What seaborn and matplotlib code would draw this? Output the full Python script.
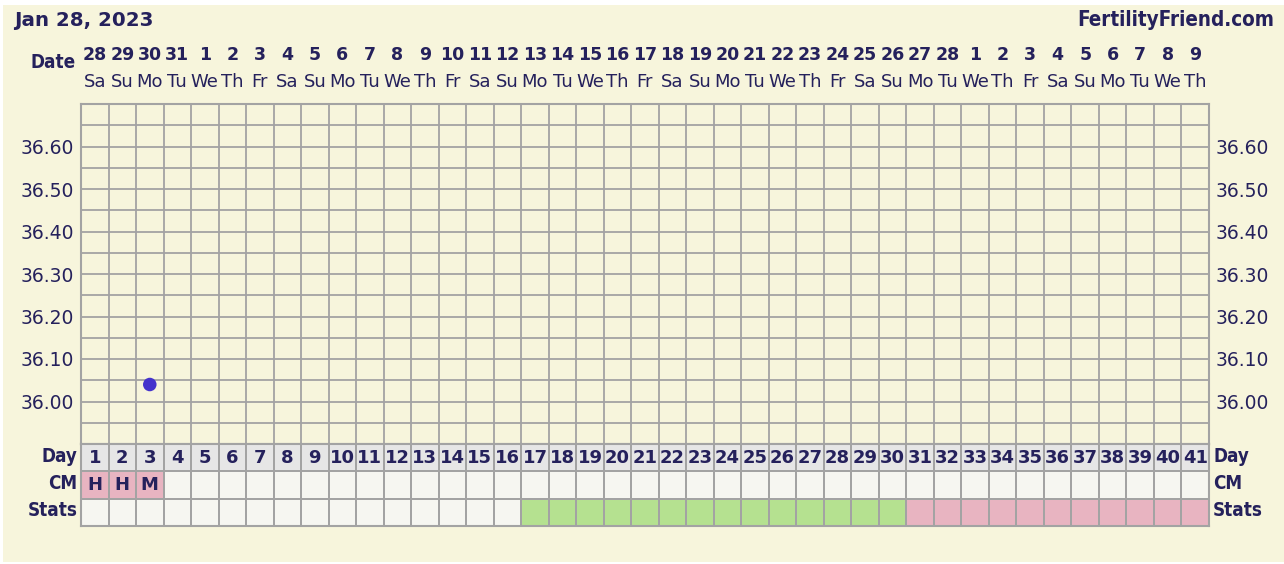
import numpy as np
import pandas as pd
import matplotlib
matplotlib.use("Agg")
import matplotlib.pyplot as plt
import matplotlib.transforms as mtransforms
from matplotlib.colors import ListedColormap
from matplotlib.patches import Rectangle
import seaborn as sns

# ---------------- data ----------------
title_date = "Jan 28, 2023"
site = "FertilityFriend.com"
dates = [28, 29, 30, 31, 1, 2, 3, 4, 5, 6, 7, 8, 9, 10, 11, 12, 13, 14, 15, 16,
         17, 18, 19, 20, 21, 22, 23, 24, 25, 26, 27, 28, 1, 2, 3, 4, 5, 6, 7, 8, 9]
weekdays = ["Sa", "Su", "Mo", "Tu", "We", "Th", "Fr"] * 6
weekdays = weekdays[:41]
cycle_days = list(range(1, 42))
temp_days = [3]
temps = [36.04]
cm_values = ["H", "H", "M"] + [""] * 38
# stats row: 0 = none, 1 = green (days 17-30), 2 = pink (days 31-41)
stats_codes = [0] * 16 + [1] * 14 + [2] * 11
ytick_vals = [36.00, 36.10, 36.20, 36.30, 36.40, 36.50, 36.60]

# ---------------- style ----------------
W, H = 1284, 564
BG = "#F7F5DC"
NAVY = "#25215C"
GRID = "#A3A3A3"
DAYROW = "#E6E6E6"
EMPTY = "#F6F6F1"
PINK = "#E8B4C1"
GREEN = "#B5E190"
DOT = "#4433CC"

sns.set_theme(style="white")
plt.rcParams["font.family"] = ["DejaVu Sans"]

fig = plt.figure(figsize=(W / 100, H / 100), dpi=100, facecolor="white")
fig.patches.append(Rectangle((3 / W, 2 / H), 1 - 3 / W, 1 - 7 / H,
                             transform=fig.transFigure, facecolor=BG,
                             edgecolor="none", zorder=-10))

x0, x1 = 81 / W, 1209 / W
y_top, y_mid, y_bot = 104, 444, 526
ax = fig.add_axes([x0, 1 - y_mid / H, x1 - x0, (y_mid - y_top) / H])
axt = fig.add_axes([x0, 1 - y_bot / H, x1 - x0, (y_bot - y_mid) / H])

# ---- temperature grid ----
ax.set_facecolor(BG)
ax.set_xlim(0, 41)
ax.set_ylim(35.90, 36.70)
ax.set_xticks(np.arange(0, 42), minor=False)
ax.set_xticklabels([])
ax.set_yticks(np.round(np.arange(35.90, 36.701, 0.05), 2), minor=True)
ax.set_yticks(ytick_vals)
ax.set_yticklabels([f"{v:.2f}" for v in ytick_vals], color=NAVY, fontsize=13.5)
ax.tick_params(axis="y", which="both", length=0, pad=5,
               left=True, right=True, labelleft=True, labelright=True)
ax.tick_params(axis="x", length=0)
ax.grid(True, which="both", color=GRID, linewidth=1.3)
for s in ax.spines.values():
    s.set_color(GRID)
    s.set_linewidth(1.5)

df = pd.DataFrame({"x": [d - 0.5 for d in temp_days], "temp": temps})
sns.scatterplot(data=df, x="x", y="temp", ax=ax, color=DOT, s=95,
                edgecolor="none", zorder=5, legend=False)
ax.set_xlabel("")
ax.set_ylabel("")

# date header
trans = mtransforms.blended_transform_factory(ax.transData, fig.transFigure)
for i, (d, w) in enumerate(zip(dates, weekdays)):
    ax.text(i + 0.5, 1 - 55 / H, str(d), transform=trans, ha="center",
            va="center", fontsize=12.5, fontweight="bold", color=NAVY)
    ax.text(i + 0.5, 1 - 82 / H, w, transform=trans, ha="center",
            va="center", fontsize=13, color=NAVY)
fig.text(76 / W, 1 - 62 / H, "Date", ha="right", va="center", fontsize=13.5,
         fontweight="bold", color=NAVY, fontstretch="condensed")
fig.text(14 / W, 1 - 20 / H, title_date, ha="left", va="center", fontsize=14.3,
         fontweight="bold", color=NAVY)
fig.text(1274 / W, 1 - 20 / H, site, ha="right", va="center", fontsize=14.8,
         fontweight="bold", color=NAVY, fontstretch="condensed")

# ---- bottom table (heatmap) ----
codes = np.array([
    [0] * 41,
    [2 if c else 1 for c in cm_values],
    [{0: 1, 1: 3, 2: 2}[s] for s in stats_codes],
])
annot = np.array([
    [str(d) for d in cycle_days],
    cm_values,
    [""] * 41,
], dtype=object)
cmap = ListedColormap([DAYROW, EMPTY, PINK, GREEN])
sns.heatmap(codes, ax=axt, cmap=cmap, vmin=-0.5, vmax=3.5, cbar=False,
            annot=annot, fmt="", linewidths=1.3, linecolor=GRID,
            annot_kws={"fontsize": 13, "fontweight": "bold", "color": NAVY},
            xticklabels=False, yticklabels=False)
for s in axt.spines.values():
    s.set_visible(True)
    s.set_color(GRID)
    s.set_linewidth(1.5)
row_labels = ["Day", "CM", "Stats"]
for r, lab in enumerate(row_labels):
    axt.text(-0.12, r + 0.45, lab, ha="right", va="center", fontsize=13.5,
             fontweight="bold", color=NAVY, fontstretch="condensed",
             transform=axt.transData)
    axt.text(41.15, r + 0.45, lab, ha="left", va="center", fontsize=13.5,
             fontweight="bold", color=NAVY, fontstretch="condensed",
             transform=axt.transData)

fig.savefig("out.png", dpi=100, facecolor=fig.get_facecolor())
